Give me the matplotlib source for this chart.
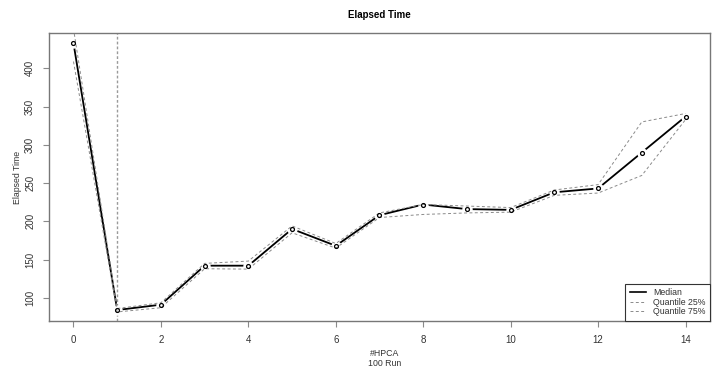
import numpy as np
import matplotlib
matplotlib.use("Agg")
from matplotlib import pyplot as plt
from matplotlib.lines import Line2D

plt.rcParams['font.family'] = ['Liberation Sans', 'DejaVu Sans']

# data
hpca = [0, 1, 2, 3, 4, 5, 6, 7, 8, 9, 10, 11, 12, 13, 14]
median = [433, 84, 91, 142, 142, 190, 168, 208, 222, 216, 215, 238, 243, 290, 337]
q25 = [409, 81.5, 87, 138, 137.5, 185, 165, 205, 209, 211, 212, 234, 237, 260, 333]
q75 = [452, 86, 93.5, 145, 148, 194, 171, 211, 222, 220, 218, 241, 248, 330, 341]
xticks = [0, 2, 4, 6, 8, 10, 12, 14]
yticks = [100, 150, 200, 250, 300, 350, 400]
vline_at = 1

W, H = 717, 376
fig = plt.figure(figsize=(W / 100, H / 100), dpi=100)
ax = fig.add_axes([49 / W, 1 - 320.7 / H, (710 - 49) / W, (320.7 - 32.5) / H])

# R-like 4% padding around the median range
lo, hi = min(median), max(median)
pad = 0.04 * (hi - lo)
ax.set_ylim(lo - pad, hi + pad)
ax.set_xlim(-0.04 * 14, 14 * 1.04)

grey = '#8a8a8a'
dash = (0, (3, 2.5))
# gap around points (R type="b")
ax.plot(hpca, median, color='black', lw=1.3, zorder=2)
ax.plot(hpca, median, 'o', ms=6.5, mfc='white', mec='white', zorder=3)
ax.plot(hpca, q25, color=grey, lw=0.7, ls=dash, zorder=4)
ax.plot(hpca, q75, color=grey, lw=0.7, ls=dash, zorder=4)
ax.plot(hpca, median, 'o', ms=2.8, mfc='none', mec='black', mew=0.9, zorder=5)
ax.axvline(vline_at, color='#9a9a9a', lw=1, ls=(0, (2, 1.5)), zorder=1)

ax.set_xticks(xticks)
ax.set_yticks(yticks)
ax.tick_params(axis='both', direction='out', length=4, width=0.8, color=grey,
               labelsize=7, labelcolor='#333333', pad=6)
for lab in ax.get_yticklabels():
    lab.set_rotation(90)
    lab.set_va('center')
for s in ax.spines.values():
    s.set_color('#777777')
    s.set_linewidth(1)

handles = [Line2D([], [], color='black', lw=1.2),
           Line2D([], [], color=grey, lw=0.7, ls=dash),
           Line2D([], [], color=grey, lw=0.7, ls=dash)]
leg = ax.legend(handles, ['Median', 'Quantile 25%', 'Quantile 75%'], loc='lower right',
                bbox_to_anchor=(1, 0), borderaxespad=0, fancybox=False, framealpha=1,
                edgecolor='#333333', fontsize=6.3, handlelength=1.9, labelspacing=0.05,
                handletextpad=0.8, borderpad=0.5)
leg.get_frame().set_linewidth(0.8)
for t in leg.get_texts():
    t.set_color('#333333')

fig.text(379.5 / W, 1 - 15 / H, 'Elapsed Time', ha='center', va='center',
         fontsize=7, fontweight='bold')
fig.text(17 / W, 1 - 177 / H, 'Elapsed Time', ha='center', va='center', rotation=90,
         fontsize=6.3, color='#333333')
fig.text(385 / W, 1 - 353.5 / H, '#HPCA', ha='center', va='center', fontsize=6.3, color='#333333')
fig.text(385 / W, 1 - 363.5 / H, '100 Run', ha='center', va='center', fontsize=6.3, color='#333333')

fig.savefig('out.png', dpi=100)
